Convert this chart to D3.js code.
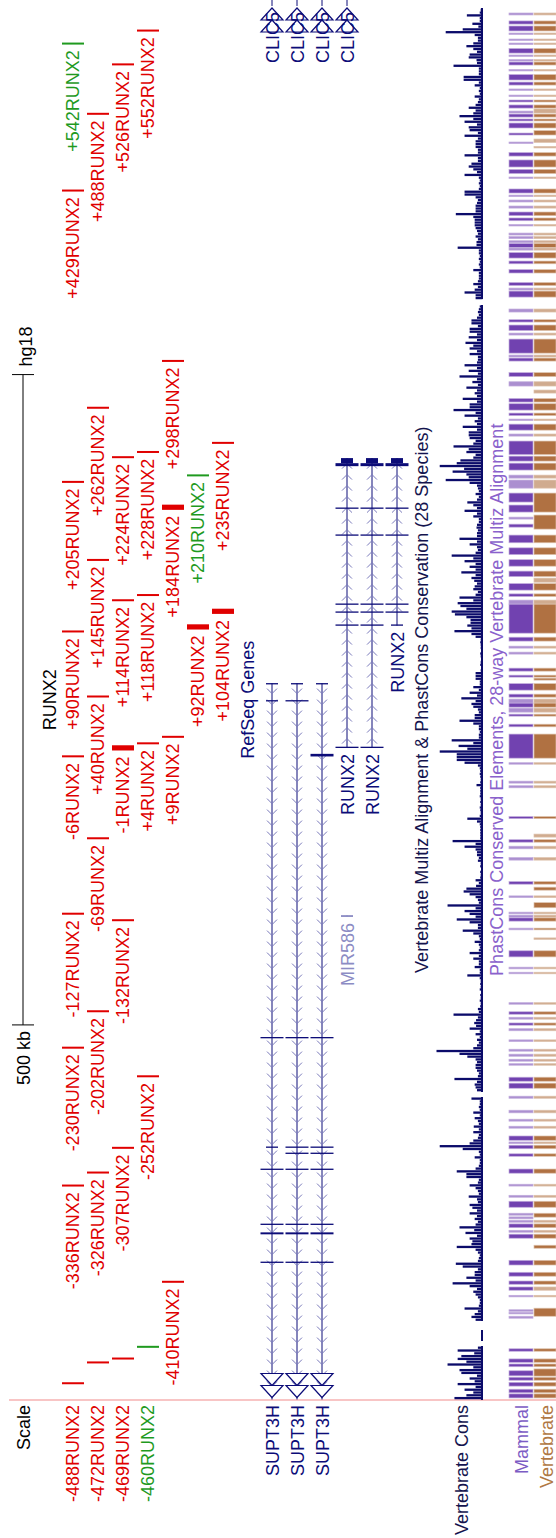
<!DOCTYPE html>
<html>
<head>
<meta charset="utf-8">
<title>RUNX2 region</title>
<script src="https://cdn.jsdelivr.net/npm/d3@7"></script>
<style>
  body { margin: 0; background: #fff; }
  svg { display: block; }
  text { font-family: "Liberation Sans", Arial, Helvetica, sans-serif; font-size: 18px; }
</style>
</head>
<body>
<svg id="chart" width="556" height="1538"></svg>
<script>
// browser window, kb relative to RUNX2 P1 (hg18)
const windowKb = [-500, 576];
const scaleBarKb = 500;
const scaleBarLabel = "500 kb";
const assemblyLabel = "hg18";
const regionLabel = "RUNX2";

// RUNX2 sites: label, kb, row, wide mark, colour key
const sites = [
  ["-488RUNX2", -488, 0, 0, "r"], ["-472RUNX2", -472, 1, 0, "r"], ["-469RUNX2", -469, 2, 0, "r"],
  ["-460RUNX2", -460, 3, 0, "g"], ["-410RUNX2", -410, 4, 0, "r"], ["-336RUNX2", -336, 0, 0, "r"],
  ["-326RUNX2", -326, 1, 0, "r"], ["-307RUNX2", -307, 2, 0, "r"], ["-252RUNX2", -252, 3, 0, "r"],
  ["-230RUNX2", -230, 0, 0, "r"], ["-202RUNX2", -202, 1, 0, "r"], ["-132RUNX2", -132, 2, 0, "r"],
  ["-127RUNX2", -127, 0, 0, "r"], ["-69RUNX2", -69, 1, 0, "r"], ["-6RUNX2", -6, 0, 0, "r"],
  ["-1RUNX2", -1, 2, 1, "r"], ["+4RUNX2", 4, 3, 0, "r"], ["+9RUNX2", 9, 4, 0, "r"],
  ["+40RUNX2", 40, 1, 0, "r"], ["+90RUNX2", 90, 0, 0, "r"], ["+92RUNX2", 92, 5, 1, "r"],
  ["+104RUNX2", 104, 6, 1, "r"], ["+114RUNX2", 114, 2, 0, "r"], ["+118RUNX2", 118, 3, 0, "r"],
  ["+145RUNX2", 145, 1, 0, "r"], ["+184RUNX2", 184, 4, 1, "r"], ["+205RUNX2", 205, 0, 0, "r"],
  ["+210RUNX2", 210, 5, 0, "g"], ["+224RUNX2", 224, 2, 0, "r"], ["+228RUNX2", 228, 3, 0, "r"],
  ["+235RUNX2", 235, 6, 0, "r"], ["+262RUNX2", 262, 1, 0, "r"], ["+298RUNX2", 298, 4, 0, "r"],
  ["+429RUNX2", 429, 0, 0, "r"], ["+488RUNX2", 488, 1, 0, "r"], ["+526RUNX2", 526, 2, 0, "r"],
  ["+542RUNX2", 542, 0, 0, "g"], ["+552RUNX2", 552, 3, 0, "r"]
];

// RefSeq transcripts: name, row, strand, start, end, exons [start, end, coding], faint
const supt3hA = [[49.9,50.8,0],[36.9,37.7,0],[-222.2,-221.3,1],[-306.4,-305.5,0],[-323.4,-322.5,1],[-365.7,-364.8,1],[-373.0,-371.5,1],[-394.9,-394.0,1]];
const supt3hB = [[49.9,50.8,0],[36.9,37.7,1],[-222.2,-221.3,1],[-306.4,-305.5,1],[-311.1,-310.2,1],[-323.4,-322.5,1],[-365.7,-364.8,1],[-373.0,-371.5,1],[-394.9,-394.0,1]];
const supt3hC = [[49.9,50.8,0],[-5.6,-3.6,1],[-222.2,-221.3,1],[-306.4,-305.5,1],[-311.1,-310.2,1],[-323.4,-322.5,1],[-365.7,-364.8,1],[-373.0,-371.5,1],[-394.9,-394.0,1]];
const runx2P1 = [[1.0,1.9,1],[95.0,95.9,1],[105.0,105.9,1],[111.1,112.0,1],[164.2,165.1,1],[184.9,185.8,1],[217.6,219.9,1],[219.9,223.8,0]];
const runx2P2 = [[95.0,95.9,0],[105.0,105.9,1],[111.1,112.0,1],[164.2,165.1,1],[184.9,185.8,1],[217.6,219.9,1],[219.9,223.8,0]];
const transcripts = [
  ["SUPT3H", 0, "-", -560, 50.8, supt3hA, 0],
  ["SUPT3H", 1, "-", -560, 50.8, supt3hB, 0],
  ["SUPT3H", 2, "-", -560, 50.8, supt3hC, 0],
  ["RUNX2", 3, "+", 1.0, 223.8, runx2P1, 0],
  ["RUNX2", 4, "+", 1.0, 223.8, runx2P1, 0],
  ["RUNX2", 5, "+", 95.0, 223.8, runx2P2, 0],
  ["MIR586", 3, "-", -129.0, -127.6, [[-129.0,-127.6,0]], 1],
  ["CLIC5", 0, "-", 571.4, 640, [], 0],
  ["CLIC5", 1, "-", 571.4, 640, [], 0],
  ["CLIC5", 2, "-", 571.4, 640, [], 0],
  ["CLIC5", 3, "-", 571.4, 640, [], 0]
];

// phastCons elements: start kb, end kb, score
const mammalElements = [
  [564.5,566.0,400],[557.5,559.9,900],[552.2,556.0,900],[549.9,550.6,400],[545.2,546.0,400],[542.2,542.9,400],
  [535.2,538.7,900],[532.9,533.7,400],[529.5,530.2,400],[526.0,528.3,900],[521.8,522.6,400],[514.5,518.7,900],
  [510.6,512.9,900],[506.8,507.6,400],[502.2,502.9,400],[497.6,499.1,900],[492.9,495.3,900],[489.1,490.6,400],
  [486.0,488.3,900],[483.0,484.5,900],[477.6,481.4,900],[472.2,473.7,900],[466.0,466.8,400],[456.0,458.7,900],
  [447.6,453.0,900],[442.6,445.7,900],[439.1,439.9,400],[427.6,430.7,900],[424.8,426.0,400],[420.7,422.2,400],
  [416.0,417.6,400],[410.2,413.0,900],[406.3,408.4,900],[402.4,403.4,400],[395.3,396.8,400],[392.5,394.1,400],
  [389.4,390.9,400],[385.7,388.8,900],[383.7,385.3,400],[377.6,381.8,900],[373.2,375.3,900],[366.1,368.7,900],
  [356.5,358.8,900],[353.0,354.5,400],[347.6,352.2,900],[336.1,338.4,400],[328.4,330.2,900],[321.9,326.1,900],
  [318.4,319.9,400],[304.5,315.3,900],[301.5,303.0,400],[298.4,300.7,900],[286.5,289.5,900],[279.2,282.5,400],
  [266.9,269.6,900],[260.7,265.6,900],[256.5,258.4,900],[252.6,253.8,400],[245.3,249.9,900],[240.7,242.3,400],
  [226.5,236.9,900],[221.5,225.3,900],[214.6,219.9,900],[208.4,210.7,400],[200.7,206.9,400],[190.0,196.9,900],
  [182.3,187.7,900],[176.9,178.4,400],[170.7,173.0,900],[158.7,164.6,900],[149.6,154.8,900],[140.7,145.7,900],
  [132.7,136.9,900],[122.3,127.3,900],[117.4,119.4,900],[111.5,114.6,400],[89.2,111.5,900],[83.1,86.1,900],
  [77.7,79.2,400],[73.1,74.6,400],[60.0,62.3,900],[55.4,56.9,900],[45.4,50.4,900],[40.0,42.3,900],
  [35.4,38.5,400],[32.3,35.4,900],[28.5,31.5,400],[25.4,26.9,900],[17.2,19.2,900],[-6.9,11.6,900],
  [-11.5,-10.4,400],[-26.1,-24.6,400],[-29.7,-28.1,400],[-53.4,-51.8,900],[-71.5,-69.6,900],[-76.6,-74.6,400],
  [-85.3,-83.4,400],[-103.8,-101.8,900],[-114.1,-112.8,400],[-126.6,-125.3,400],[-129.2,-127.6,400],[-132.2,-129.7,900],
  [-138.9,-137.6,400],[-159.7,-155.0,900],[-168.9,-167.6,400],[-172.7,-171.5,400],[-196.1,-194.9,400],[-203.8,-201.9,900],
  [-207.6,-206.1,400],[-212.2,-210.5,900],[-216.5,-214.9,400],[-224.8,-223.5,400],[-232.2,-230.7,400],[-236.1,-234.5,400],
  [-239.9,-238.4,400],[-243.0,-241.8,400],[-255.3,-252.2,900],[-260.7,-256.8,900],[-268.4,-266.8,400],[-279.6,-277.6,400],
  [-286.0,-284.5,400],[-291.4,-289.9,400],[-300.7,-297.4,900],[-303.3,-302.0,400],[-307.2,-304.5,900],[-313.0,-311.1,900],
  [-326.0,-322.8,900],[-335.9,-334.5,400],[-344.5,-343.0,400],[-352.2,-347.6,900],[-358.3,-356.8,400],[-361.1,-359.6,400],
  [-363.7,-362.2,400],[-367.9,-365.0,900],[-371.4,-369.9,400],[-376.0,-372.9,900],[-396.6,-393.0,900],[-405.2,-402.2,900],
  [-411.4,-408.9,900],[-416.0,-413.5,900],[-421.1,-419.9,400],[-432.2,-431.0,400],[-434.2,-433.0,400],[-437.5,-436.0,400],
  [-462.9,-461.0,900],[-471.4,-468.8,900],[-474.8,-472.7,900],[-481.8,-477.9,900],[-485.2,-482.9,900],[-489.7,-486.8,900],
  [-494.8,-492.1,900],[-498.8,-495.7,900]
];
const vertebrateElements = [
  [564.5,566.0,400],[557.5,559.9,900],[552.2,556.0,900],[549.9,550.6,400],[545.2,546.0,400],[542.2,542.9,400],
  [535.2,538.7,900],[532.9,533.7,400],[529.5,530.2,400],[526.0,528.3,900],[521.8,522.6,400],[514.5,518.7,900],
  [510.6,512.9,900],[506.8,507.6,400],[502.2,502.9,400],[497.6,499.1,900],[492.9,495.3,900],[489.1,492.2,400],
  [486.0,488.3,900],[483.0,484.5,900],[477.6,481.4,900],[472.2,475.6,900],[466.5,469.1,400],[462.3,463.4,400],
  [456.0,458.7,900],[447.6,453.0,900],[442.6,445.7,900],[439.1,439.9,400],[427.6,430.7,900],[424.8,426.0,400],
  [420.7,422.2,400],[416.0,417.6,400],[410.2,413.0,900],[406.3,408.4,900],[402.4,403.4,400],[395.3,396.8,400],
  [392.5,394.1,400],[389.4,390.9,400],[385.7,388.8,900],[383.7,385.3,400],[377.6,381.8,900],[373.2,375.3,900],
  [366.1,368.7,900],[356.5,358.8,900],[353.0,354.5,400],[347.6,352.2,900],[336.1,338.4,400],[328.4,330.2,900],
  [321.9,326.1,900],[318.4,319.9,400],[304.5,315.3,900],[301.5,303.0,400],[298.4,300.7,900],[286.5,289.5,900],
  [279.2,282.5,400],[273.8,276.1,400],[266.9,269.6,900],[260.7,265.6,900],[256.5,258.4,900],[252.6,253.8,400],
  [245.3,249.9,900],[240.7,242.3,400],[226.5,236.9,900],[221.5,225.3,900],[214.6,219.9,900],[208.4,210.7,400],
  [200.7,206.9,400],[182.3,196.9,900],[169.2,180.0,900],[158.7,164.6,900],[149.6,154.8,900],[140.7,145.7,900],
  [132.7,136.9,900],[128.4,131.5,400],[122.3,127.3,900],[117.4,119.4,900],[111.5,114.6,400],[89.2,111.5,900],
  [83.1,86.1,900],[77.7,79.2,400],[73.1,74.6,400],[60.0,62.3,900],[55.4,56.9,900],[53.1,54.6,900],
  [45.4,50.4,900],[40.0,42.3,900],[35.4,38.5,400],[32.3,35.4,900],[28.5,31.5,400],[25.4,26.9,900],
  [17.2,19.2,900],[-6.9,11.6,900],[-11.5,-10.4,400],[-26.1,-24.6,400],[-29.7,-28.1,400],[-53.4,-51.8,900],
  [-67.6,-65.3,400],[-71.5,-69.6,900],[-76.6,-74.6,400],[-85.3,-83.4,400],[-103.8,-101.8,900],[-108.4,-106.1,900],
  [-114.1,-112.8,400],[-121.9,-118.0,900],[-126.6,-125.3,400],[-129.2,-127.6,400],[-132.2,-129.7,900],[-138.9,-137.6,900],
  [-145.9,-145.1,400],[-159.7,-155.0,900],[-168.9,-167.6,400],[-172.7,-171.5,400],[-196.1,-194.9,400],[-203.8,-201.9,900],
  [-207.6,-206.1,400],[-212.2,-210.5,900],[-216.5,-214.9,400],[-224.8,-223.5,400],[-232.2,-230.7,400],[-236.1,-234.5,400],
  [-239.9,-238.4,400],[-243.0,-241.8,400],[-255.3,-252.2,900],[-260.7,-256.8,900],[-268.4,-266.8,400],[-279.6,-277.6,400],
  [-286.0,-284.5,400],[-291.4,-289.9,400],[-300.7,-297.4,900],[-303.3,-302.0,400],[-307.2,-304.5,900],[-313.0,-311.1,900],
  [-326.0,-322.8,900],[-335.9,-334.5,400],[-344.5,-343.0,400],[-352.2,-347.6,900],[-359.8,-356.8,900],[-363.7,-362.2,400],
  [-367.9,-365.0,900],[-371.4,-369.9,400],[-376.0,-372.9,900],[-383.7,-381.4,900],[-396.6,-393.0,900],[-405.2,-402.2,900],
  [-411.4,-408.9,900],[-416.0,-413.5,400],[-421.1,-419.9,400],[-436.0,-429.8,900],[-462.9,-461.0,900],[-471.4,-468.8,900],
  [-474.8,-472.7,900],[-482.0,-476.5,900],[-485.2,-482.9,900],[-489.7,-486.8,900],[-494.8,-492.1,900],[-498.8,-495.7,900]
];

// vertebrate conservation, percent of track height, from the left edge of the window
const consStart = -500;
const consStep = 2.152;
const consValues = [
  61,35,20,39,15,54,17,28,12,46,50,20,76,35,54,46,18,54,10,null,
  null,0,0,0,0,null,null,null,15,24,17,10,39,8,6,6,10,15,20,12,
  28,65,15,35,17,17,10,43,58,10,8,6,10,15,56,24,22,28,12,37,
  18,50,15,10,17,12,28,12,22,28,10,12,30,8,10,15,28,10,8,35,
  35,56,15,8,6,6,17,6,8,43,93,28,20,10,8,20,8,19,8,10,
  17,6,20,6,8,6,6,24,null,null,12,15,17,12,61,10,8,12,15,15,
  12,15,33,50,100,20,12,8,12,6,15,6,28,14,18,14,10,63,8,10,
  5,4,6,4,5,3,6,4,5,4,6,33,6,6,17,8,8,20,8,28,
  8,6,8,17,6,8,20,43,10,10,28,56,15,28,39,15,76,8,10,15,
  28,41,35,14,8,15,5,4,5,3,5,4,10,8,12,12,15,39,15,65,
  5,5,5,5,5,6,12,33,6,4,5,6,4,5,4,6,5,5,5,13,
  5,4,5,6,5,6,10,39,56,56,56,93,33,52,20,67,8,8,6,8,
  8,20,50,17,17,8,10,20,24,15,46,12,28,8,20,6,6,15,15,15,
  4,3,5,4,3,4,5,3,4,4,5,4,15,24,61,24,33,26,26,35,
  60,67,35,48,54,20,50,15,10,20,17,12,18,24,15,46,15,28,15,39,
  20,67,15,10,12,28,12,50,12,12,10,13,12,8,8,20,12,39,12,20,
  33,12,8,15,8,10,12,28,80,30,35,65,40,93,56,48,20,15,35,30,
  63,20,15,28,30,30,12,43,12,17,10,39,15,63,28,28,12,43,12,17,
  12,35,10,22,12,50,10,30,12,39,12,10,10,28,12,28,20,37,12,30,
  12,28,28,10,24,24,12,8,10,8,6,null,null,15,15,39,17,10,20,10,
  8,8,8,20,6,8,6,8,6,8,8,54,13,13,10,15,10,12,15,17,
  17,17,20,58,15,15,15,12,10,15,39,39,8,6,8,6,8,39,12,20,
  30,24,10,10,39,10,10,15,15,15,10,39,10,28,30,12,39,20,50,20,
  15,30,15,10,8,17,6,8,6,17,8,41,41,8,8,8,63,12,13,30,
  28,12,20,35,20,10,10,17,80,43,9,22,6,6,34,6,4,null,null,null
];

const svg = d3.select("#chart");
const y = d3.scaleLinear().domain(windowKb).range([1399.5, 0]);
const winBottom = y(windowKb[0]);
const gutterY = 1405;

const navy = "#0c0c78";
const siteColor = { r: "#e00000", g: "#1f9a1f" };

function vtext(x, yy, str, anchor, color) {
  return svg.append("text")
    .attr("transform", `translate(${x},${yy}) rotate(-90)`)
    .attr("text-anchor", anchor)
    .attr("dominant-baseline", "central")
    .attr("fill", color)
    .text(str);
}

// label gutter separator
svg.append("line")
  .attr("x1", 9).attr("x2", 556).attr("y1", 1400).attr("y2", 1400)
  .attr("stroke", "#f6b2b2").attr("stroke-width", 1.5);

// scale bar
const mid = (windowKb[0] + windowKb[1]) / 2;
const b0 = y(mid - scaleBarKb / 2), b1 = y(mid + scaleBarKb / 2);
svg.append("line").attr("x1", 23).attr("x2", 23).attr("y1", b0).attr("y2", b1).attr("stroke", "#000");
[b0, b1].forEach(v => svg.append("line")
  .attr("x1", 12).attr("x2", 34).attr("y1", v).attr("y2", v).attr("stroke", "#000"));
vtext(24, b0 + 6, scaleBarLabel, "end", "#000");
vtext(26, b1 - 8, assemblyLabel, "start", "#000");
vtext(50, y(mid), regionLabel, "middle", "#000");
vtext(24, gutterY, "Scale", "end", "#000");

// RUNX2 sites
sites.forEach(([label, kb, row, wide, c]) => {
  const x0 = 62 + 25 * row;
  const top = y(kb + (wide ? 4 : 1)), bot = y(kb);
  const h = Math.max(2, bot - top);
  svg.append("rect")
    .attr("x", x0).attr("y", (top + bot) / 2 - h / 2)
    .attr("width", 22).attr("height", h)
    .attr("fill", siteColor[c]);
  const t = vtext(x0 + 11, bot + 6, label, "end", siteColor[c]);
  const w = t.node().getComputedTextLength();
  if (bot + 6 + w > winBottom) t.attr("transform", `translate(${x0 + 11},${gutterY}) rotate(-90)`);
});

// RefSeq genes
vtext(248, y(mid), "RefSeq Genes", "middle", navy);
transcripts.forEach(([name, row, strand, s, e, exons, faint]) => {
  const cx = 272 + 25 * row;
  const col = faint ? "#8c8cc4" : navy;
  const lo = Math.max(s, windowKb[0]), hi = Math.min(e, windowKb[1]);
  const yLo = y(lo), yHi = y(hi);
  const g = svg.append("g");
  g.append("line").attr("x1", cx).attr("x2", cx).attr("y1", yLo).attr("y2", yHi).attr("stroke", col);
  const d = strand === "+" ? -1 : 1;
  for (let py = yHi + 8; py < yLo - 6; py += 11) {
    g.append("path")
      .attr("d", `M${cx - 5},${py - 2.5 * d}L${cx},${py + 2.5 * d}L${cx + 5},${py - 2.5 * d}`)
      .attr("fill", "none").attr("stroke", "#7a7abb").attr("stroke-width", 1);
  }
  exons.forEach(([es, ee, cds]) => {
    const t = y(ee), b = y(es);
    const h = Math.max(1.3, b - t);
    const hw = cds ? 11.5 : 6;
    g.append("rect").attr("x", cx - hw).attr("y", t).attr("width", hw * 2).attr("height", h).attr("fill", col);
  });
  // label
  if (s < windowKb[0]) vtext(cx + 1, gutterY, name, "end", col);
  else vtext(cx + 1, y(s) + 6, name, "end", col);
  // arrows where the transcript runs off the window
  const tri = (base, apex) => g.append("path")
    .attr("d", `M${cx - 11},${base}L${cx + 11},${base}L${cx},${apex}Z`)
    .attr("fill", "#fff").attr("stroke", col).attr("stroke-width", 1.2);
  if (s < windowKb[0]) { tri(winBottom - 26, winBottom - 14); tri(winBottom - 14, winBottom - 2); }
  if (e > windowKb[1]) { tri(20, 8); tri(32, 20); }
});

// conservation wiggle
const consBase = 482.5, consHeight = 46;
vtext(422, y(mid), "Vertebrate Multiz Alignment & PhastCons Conservation (28 Species)", "middle", "#14144e");
const base = svg.append("g").attr("shape-rendering", "crispEdges");
const bars = svg.append("g");
consValues.forEach((v, i) => {
  if (v === null) return;
  const s = consStart + i * consStep, e = s + consStep;
  const ym = (y(s) + y(e)) / 2;
  base.append("rect")
    .attr("x", consBase - 1.5).attr("y", y(e))
    .attr("width", 1.5).attr("height", y(s) - y(e))
    .attr("fill", "#0b0b6a");
  const h = v / 100 * consHeight;
  if (h > 1.5) bars.append("rect")
    .attr("x", consBase - h).attr("y", ym - 1.15)
    .attr("width", h).attr("height", 2.3)
    .attr("fill", "#0b0b6a");
});
vtext(462, gutterY, "Vertebrate Cons", "end", "#14144e");

// phastCons elements
vtext(497, y(mid), "PhastCons Conserved Elements, 28-way Vertebrate Multiz Alignment", "middle", "#8a62cc");
function drawElements(list, x0, w, dark) {
  const mix = d3.interpolateRgb("#ffffff", dark);
  list.forEach(([s, e, score]) => {
    const t = y(e), b = y(s);
    const h = Math.max(1.5, b - t);
    svg.append("rect")
      .attr("x", x0).attr("y", t).attr("width", w).attr("height", h)
      .attr("fill", mix(0.25 + 0.75 * score / 1000))
      .attr("stroke", mix(0.4)).attr("stroke-width", 0.7);
  });
}
drawElements(mammalElements, 509, 24, "#6633aa");
drawElements(vertebrateElements, 534, 22, "#aa6633");
vtext(522, gutterY, "Mammal", "end", "#7c5cc4");
vtext(547, gutterY, "Vertebrate", "end", "#b07844");
</script>
</body>
</html>
